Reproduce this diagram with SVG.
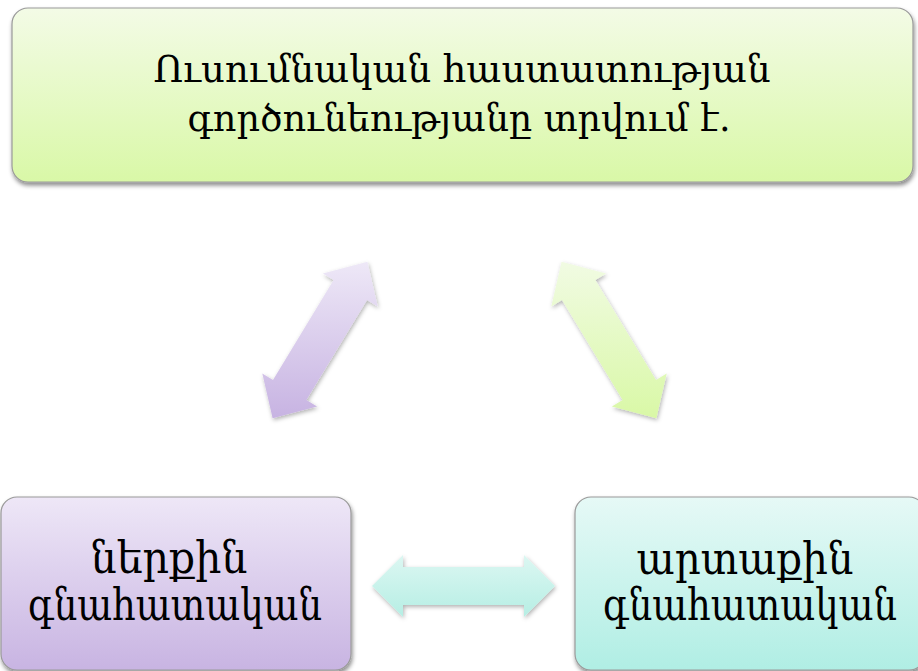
<svg xmlns="http://www.w3.org/2000/svg" width="918" height="671" viewBox="0 0 918 671">
  <style>
    .box { stroke: #9a9a9a; stroke-width: 1.2; filter: url(#shadow); }
    .arrow { filter: url(#ashadow); }
    .t { font-family: "DejaVu Serif Condensed", "DejaVu Serif", serif; fill: #000; text-anchor: middle; }
    .top { font-size: 38px; }
    .bot { font-size: 44px; }
  </style>
  <defs>
    <filter id="shadow" x="-10%" y="-10%" width="120%" height="130%">
      <feDropShadow dx="1" dy="3" stdDeviation="2.2" flood-color="#000" flood-opacity="0.45"/>
    </filter>
    <filter id="ashadow" x="-20%" y="-20%" width="140%" height="140%">
      <feDropShadow dx="1" dy="2" stdDeviation="2" flood-color="#000" flood-opacity="0.3"/>
    </filter>
    <linearGradient id="gGreen" x1="0" y1="0" x2="0" y2="1">
      <stop offset="0" stop-color="#f3fbe6"/>
      <stop offset="1" stop-color="#d9f8a7"/>
    </linearGradient>
    <linearGradient id="gPurple" x1="0" y1="0" x2="0" y2="1">
      <stop offset="0" stop-color="#eee7f7"/>
      <stop offset="1" stop-color="#c8b4e2"/>
    </linearGradient>
    <linearGradient id="gTeal" x1="0" y1="0" x2="0" y2="1">
      <stop offset="0" stop-color="#e6f9f6"/>
      <stop offset="1" stop-color="#b0eee4"/>
    </linearGradient>
    <linearGradient id="aPurple" x1="0" y1="0" x2="0" y2="1">
      <stop offset="0" stop-color="#eee8f7"/>
      <stop offset="1" stop-color="#c7b3e2"/>
    </linearGradient>
    <linearGradient id="aGreen" x1="0" y1="0" x2="0" y2="1">
      <stop offset="0" stop-color="#f1fbe3"/>
      <stop offset="1" stop-color="#d9f8a6"/>
    </linearGradient>
    <linearGradient id="aTeal" x1="0" y1="0" x2="0" y2="1">
      <stop offset="0" stop-color="#dcf7f2"/>
      <stop offset="1" stop-color="#b6eee4"/>
    </linearGradient>
  </defs>

  <g id="connectors">
    <polygon id="arrow-left" class="arrow" fill="url(#aPurple)" points="272.6,418.3 262.3,373.5 273.0,379.9 333.6,279.9 322.9,273.4 367.4,261.7 377.7,306.5 367.0,300.1 306.4,400.1 317.1,406.6"/>
    <polygon id="arrow-right" class="arrow" fill="url(#aGreen)" points="656.4,418.3 666.7,373.5 656.0,379.9 595.4,279.9 606.1,273.4 561.6,261.7 551.3,306.5 562.0,300.1 622.6,400.1 611.9,406.6"/>
    <polygon id="arrow-bottom" class="arrow" fill="url(#aTeal)" points="372,586 403,555 403,567 524,567 524,555 555,586 524,617 524,605 403,605 403,617"/>
  </g>

  <g id="node-top">
    <rect class="box" x="12" y="8" width="901" height="174" rx="16" fill="url(#gGreen)"/>
    <text class="t top" x="462" y="82" textLength="617" lengthAdjust="spacingAndGlyphs">Ուսումնական հաստատության</text>
    <text class="t top" x="459" y="131" textLength="543" lengthAdjust="spacingAndGlyphs">գործունեությանը տրվում է.</text>
  </g>

  <g id="node-left">
    <rect class="box" x="1" y="497" width="350" height="173" rx="16" fill="url(#gPurple)"/>
    <text class="t bot" x="169" y="573" textLength="157" lengthAdjust="spacingAndGlyphs">ներքին</text>
    <text class="t bot" x="175" y="620" textLength="294" lengthAdjust="spacingAndGlyphs">գնահատական</text>
  </g>

  <g id="node-right">
    <rect class="box" x="575" y="497" width="350" height="173" rx="16" fill="url(#gTeal)"/>
    <text class="t bot" x="745" y="574" textLength="217" lengthAdjust="spacingAndGlyphs">արտաքին</text>
    <text class="t bot" x="750" y="620" textLength="294" lengthAdjust="spacingAndGlyphs">գնահատական</text>
  </g>
</svg>
